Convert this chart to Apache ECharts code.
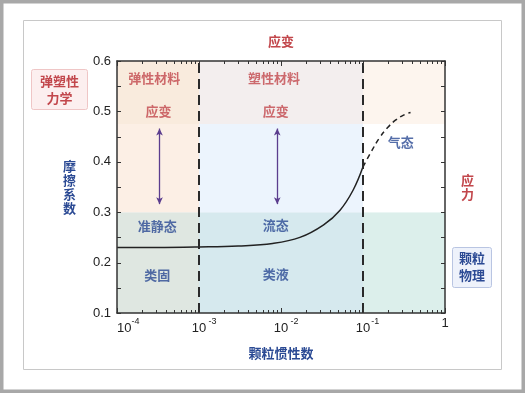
<!DOCTYPE html>
<html><head><meta charset="utf-8">
<script src="https://cdn.jsdelivr.net/npm/echarts@6/dist/echarts.min.js"></script>
<style>html,body{margin:0;padding:0;background:#fff}#c{width:525px;height:393px}</style>
</head><body><div id="c"></div>
<script>
// ---- data ----
const xBounds = [1e-4, 1e-3, 1e-1, 1];
const yBounds = [0.1, 0.3, 0.475, 0.6];
// region colours: per column (left→right), per row (bottom→top)
const regionColors = [
  ['#dfe7e1', '#fcefe5', '#f9ebdd'],
  ['#d6e9ee', '#ecf4fd', '#f3eeee'],
  ['#dcefeb', '#ffffff', '#fdf5ee']
];
const curveX = [1e-4, 3e-4, 1e-3, 3e-3, 0.0079, 0.017, 0.0331, 0.0525, 0.0759, 0.1];
const curveY = [0.230, 0.230, 0.231, 0.233, 0.238, 0.250, 0.275, 0.304, 0.344, 0.39];
const dashX = [0.1, 0.126, 0.158, 0.2, 0.251, 0.316, 0.38];
const dashY = [0.39, 0.42, 0.447, 0.468, 0.483, 0.493, 0.498];
const dividerX = [1e-3, 1e-1];
const arrowX = [3.3e-4, 9.0e-3];
const arrowY = [0.466, 0.316];
const xTickValues = [1e-4, 1e-3, 1e-2, 1e-1, 1];
const xTickBase = ['10', '10', '10', '10', '1'];
const xTickExp = ['-4', ' -3', ' -2', '-1', ''];
const xMinorTicks = [2e-4,3e-4,4e-4,5e-4,6e-4,7e-4,8e-4,9e-4,
  2e-3,3e-3,4e-3,5e-3,6e-3,7e-3,8e-3,9e-3,
  0.02,0.03,0.04,0.05,0.06,0.07,0.08,0.09,
  0.2,0.3,0.4,0.5,0.6,0.7,0.8,0.9];
const yTicks = ['0.1', '0.2', '0.3', '0.4', '0.5', '0.6'];
const yAllTicks = [0.1, 0.15, 0.2, 0.25, 0.3, 0.35, 0.4, 0.45, 0.5, 0.55, 0.6];
const redNotes = [
  {x: 2.85e-4, y: 0.566, t: '弹性材料'},
  {x: 3.2e-4, y: 0.501, t: '应变'},
  {x: 8.2e-3, y: 0.566, t: '塑性材料'},
  {x: 8.6e-3, y: 0.501, t: '应变'}
];
const blueNotes = [
  {x: 0.289, y: 0.44, t: '气态'},
  {x: 3.1e-4, y: 0.2726, t: '准静态'},
  {x: 3.1e-4, y: 0.176, t: '类固'},
  {x: 8.6e-3, y: 0.2746, t: '流态'},
  {x: 8.6e-3, y: 0.177, t: '类液'}
];

// ---- styles ----
const RED = '#c2474c', BLUE = '#2b4a94', PURPLE = '#5b3d8e', AX = '#333';
const CJK = '"Noto Sans CJK SC", sans-serif';
const NUM = '"Liberation Sans", Arial, sans-serif';

const areas = [];
for (let c = 0; c < 3; c++) for (let r = 0; r < 3; r++) {
  areas.push([
    {xAxis: xBounds[c], yAxis: yBounds[r], itemStyle: {color: regionColors[c][r]}},
    {xAxis: xBounds[c + 1], yAxis: yBounds[r + 1]}
  ]);
}

function noteSeries(list, color) {
  return {
    type: 'scatter', symbolSize: 0, silent: true, z: 5,
    data: list.map(n => ({value: [n.x, n.y], label: {formatter: n.t}})),
    label: {show: true, position: 'inside', color: color, fontFamily: CJK,
      fontWeight: 'bold', fontSize: 13}
  };
}

const tickLabelRich = {
  p: {width: 10},
  b: {fontSize: 13, fontFamily: NUM, color: '#222'},
  s: {fontSize: 9, fontFamily: NUM, color: '#222', padding: [0, 0, 13, 0], width: 10}
};

const staticGraphic = [
  {type: 'rect', z: -10, silent: true, shape: {x: 1.5, y: 1.5, width: 522, height: 390},
    style: {fill: 'none', stroke: '#a8a8a8', lineWidth: 4}},
  {type: 'rect', z: -10, silent: true, shape: {x: 23.5, y: 20.5, width: 478, height: 349},
    style: {fill: 'none', stroke: '#c8c8c8', lineWidth: 1}},
  {type: 'rect', silent: true, shape: {x: 31.5, y: 69.5, width: 56, height: 40, r: 2},
    style: {fill: '#fcefef', stroke: '#efc6c6', lineWidth: 1}},
  {type: 'text', silent: true, x: 59.5, y: 89.5,
    style: {text: '弹塑性\n力学', fill: RED, font: 'bold 13px ' + CJK, align: 'center', verticalAlign: 'middle', lineHeight: 17}},
  {type: 'rect', silent: true, shape: {x: 452.5, y: 247.5, width: 39, height: 40, r: 2},
    style: {fill: '#eef2fb', stroke: '#b9c5e2', lineWidth: 1}},
  {type: 'text', silent: true, x: 472, y: 267,
    style: {text: '颗粒\n物理', fill: BLUE, font: 'bold 13px ' + CJK, align: 'center', verticalAlign: 'middle', lineHeight: 17}}
];

const option = {
  animation: false,
  grid: {left: 117, top: 61, width: 328, height: 252, containLabel: false},
  xAxis: [
    {
      type: 'log', logBase: 10, min: 1e-4, max: 1, position: 'bottom', z: 10,
      splitLine: {show: false},
      axisLine: {show: true, lineStyle: {color: AX, width: 1.5}},
      axisTick: {show: false},
      axisLabel: {
        show: true, margin: 4, alignMinLabel: 'left',
        formatter: function (v) {
          let i = xTickValues.findIndex(t => Math.abs(Math.log10(t) - Math.log10(v)) < 1e-6);
          if (i < 0) return '';
          if (xTickExp[i] === '') return '{b|' + xTickBase[i] + '}';
          if (i === 0) return '{b|' + xTickBase[i] + '}{s|' + xTickExp[i] + '}';
          return '{p|}{b|' + xTickBase[i] + '}{s|' + xTickExp[i] + '}';
        },
        rich: tickLabelRich
      },
      name: '颗粒惯性数', nameLocation: 'middle', nameGap: 34,
      nameTextStyle: {color: BLUE, fontFamily: CJK, fontWeight: 'bold', fontSize: 13}
    },
    {
      type: 'log', logBase: 10, min: 1e-4, max: 1, position: 'top', z: 10,
      splitLine: {show: false},
      axisLine: {show: true, lineStyle: {color: AX, width: 1.5}},
      axisTick: {show: false},
      axisLabel: {show: false},
      name: '应变', nameLocation: 'middle', nameGap: 13,
      nameTextStyle: {color: RED, fontFamily: CJK, fontWeight: 'bold', fontSize: 13}
    }
  ],
  yAxis: [
    {
      type: 'value', min: 0.1, max: 0.6, interval: 0.1, position: 'left', z: 10,
      splitLine: {show: false},
      axisLine: {show: true, lineStyle: {color: AX, width: 1.5}},
      axisTick: {show: false},
      axisLabel: {margin: 6, color: '#222', fontFamily: NUM, fontSize: 13,
        formatter: (v) => yTicks.find(t => Math.abs(parseFloat(t) - v) < 1e-6) || ''},
      name: '摩\n擦\n系\n数', nameLocation: 'middle', nameGap: 41, nameRotate: 0,
      nameTextStyle: {color: BLUE, fontFamily: CJK, fontWeight: 'bold', fontSize: 13, lineHeight: 14}
    },
    {
      type: 'value', min: 0.1, max: 0.6, interval: 0.1, position: 'right', z: 10,
      splitLine: {show: false},
      axisLine: {show: true, lineStyle: {color: AX, width: 1.5}},
      axisTick: {show: false},
      axisLabel: {show: false},
      name: '应\n力', nameLocation: 'middle', nameGap: 16, nameRotate: 0,
      nameTextStyle: {color: RED, fontFamily: CJK, fontWeight: 'bold', fontSize: 13, lineHeight: 14}
    }
  ],
  graphic: staticGraphic,
  series: [
    {
      type: 'line', data: [], silent: true, z: 1,
      markArea: {silent: true, data: areas, label: {show: false}}
    },
    {
      type: 'line', data: [], silent: true, z: 2,
      markLine: {silent: true, symbol: 'none', label: {show: false},
        lineStyle: {color: '#2a2a2a', width: 2, type: [10, 6]},
        data: dividerX.map(x => [{coord: [x, yBounds[0]]}, {coord: [x, yBounds[3]]}])}
    },
    {
      type: 'line', data: [], silent: true, z: 3,
      markLine: {silent: true, symbol: ['arrow', 'arrow'], symbolSize: [5, 7], label: {show: false},
        lineStyle: {color: PURPLE, width: 1.3, type: 'solid'},
        data: arrowX.map(x => [{coord: [x, arrowY[0]]}, {coord: [x, arrowY[1]]}])}
    },
    {
      type: 'line', smooth: 0.4, showSymbol: false, silent: true, z: 4,
      lineStyle: {color: '#222', width: 1.5},
      data: curveX.map((x, i) => [x, curveY[i]])
    },
    {
      type: 'line', smooth: 0.4, showSymbol: false, silent: true, z: 4,
      lineStyle: {color: '#222', width: 1.5, type: [5, 4]},
      data: dashX.map((x, i) => [x, dashY[i]])
    },
    noteSeries(redNotes, RED),
    noteSeries(blueNotes, BLUE)
  ]
};
const chart = echarts.init(document.getElementById('c'), null, {renderer: 'canvas'});
chart.setOption(option);

// inward tick marks, positioned through the chart's own axis scales
const tickEls = [];
const st = {stroke: AX, lineWidth: 1};
function px(v) { return Math.round(v) + 0.5; }
function addX(values, len) {
  values.forEach(v => {
    const b = chart.convertToPixel({gridIndex: 0}, [v, yBounds[0]]);
    const t = chart.convertToPixel({gridIndex: 0}, [v, yBounds[3]]);
    if (!b || !t) return;
    tickEls.push({type: 'line', z: 100, silent: true, shape: {x1: px(b[0]), y1: b[1], x2: px(b[0]), y2: b[1] - len}, style: st});
    tickEls.push({type: 'line', z: 100, silent: true, shape: {x1: px(t[0]), y1: t[1], x2: px(t[0]), y2: t[1] + len}, style: st});
  });
}
function addY(values, len) {
  values.forEach(v => {
    const l = chart.convertToPixel({gridIndex: 0}, [xBounds[0], v]);
    const r = chart.convertToPixel({gridIndex: 0}, [xBounds[3], v]);
    if (!l || !r) return;
    tickEls.push({type: 'line', z: 100, silent: true, shape: {x1: l[0], y1: px(l[1]), x2: l[0] + len, y2: px(l[1])}, style: st});
    tickEls.push({type: 'line', z: 100, silent: true, shape: {x1: r[0], y1: px(r[1]), x2: r[0] - len, y2: px(r[1])}, style: st});
  });
}
addX(xTickValues, 5);
addX(xMinorTicks, 3);
addY(yAllTicks, 4);
chart.setOption({graphic: staticGraphic.concat(tickEls)});
</script>
</body></html>
